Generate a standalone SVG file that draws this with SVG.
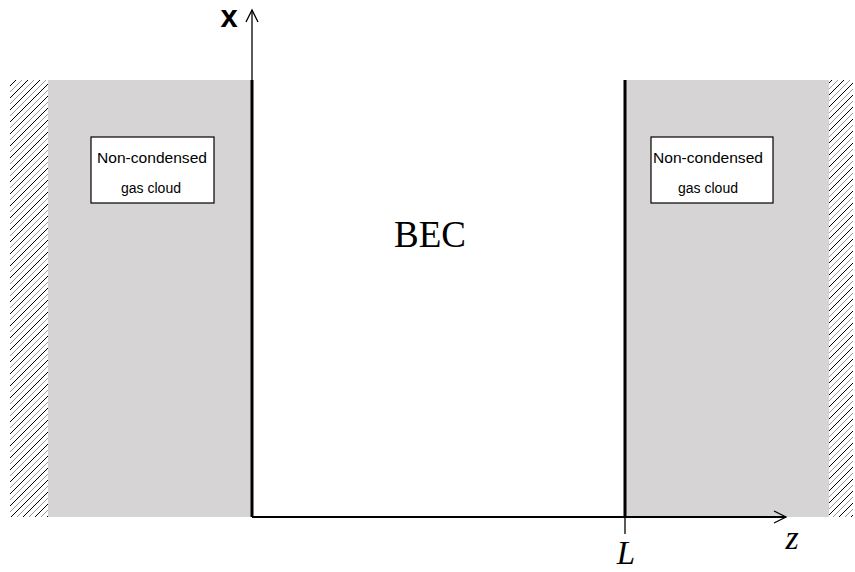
<svg xmlns="http://www.w3.org/2000/svg" width="855" height="572" viewBox="0 0 855 572">
<defs>
<pattern id="hatch" patternUnits="userSpaceOnUse" width="12" height="12">
<path d="M-3,15 L15,-3" stroke="#000" stroke-width="1"/>
<path d="M-9,15 L9,-3" stroke="#999" stroke-width="1"/>
<path d="M3,15 L21,-3" stroke="#999" stroke-width="1"/>
</pattern>
<marker id="arr" markerWidth="16" markerHeight="16" refX="14" refY="8" orient="auto" markerUnits="userSpaceOnUse">
<path d="M2,2 L14,8 L2,14" fill="none" stroke="#000" stroke-width="1.3"/>
</marker>
<style>
.lbl{font-family:"Liberation Sans",Arial,sans-serif;font-size:14px;fill:#000}
.box{fill:#fff;stroke:#000;stroke-width:1.2}
.gas{fill:#d6d4d5}
</style>
</defs>
<rect width="855" height="572" fill="#fff"/>
<g id="walls">
<rect x="10" y="80" width="38" height="437" fill="url(#hatch)"/>
<rect x="829" y="80" width="24" height="437" fill="url(#hatch)"/>
</g>
<g id="left-gas">
<rect class="gas" x="48" y="80" width="204" height="437"/>
<rect class="box" x="91" y="137" width="123" height="66"/>
<text class="lbl" x="97" y="163" textLength="110" lengthAdjust="spacingAndGlyphs">Non-condensed</text>
<text class="lbl" x="151" y="193" text-anchor="middle">gas cloud</text>
</g>
<g id="right-gas">
<rect class="gas" x="625" y="80" width="204" height="437"/>
<rect class="box" x="651" y="137" width="122" height="66"/>
<text class="lbl" x="653" y="163" textLength="110" lengthAdjust="spacingAndGlyphs">Non-condensed</text>
<text class="lbl" x="708" y="193" text-anchor="middle">gas cloud</text>
</g>
<g id="bec">
<text x="430" y="247" text-anchor="middle" font-family="'Liberation Serif','Times New Roman',serif" font-size="37">BEC</text>
</g>
<g id="connectors">
<line x1="252" y1="80" x2="252" y2="517" stroke="#000" stroke-width="3"/>
<line x1="625" y1="80" x2="625" y2="517" stroke="#000" stroke-width="3"/>
<line x1="252" y1="517" x2="252" y2="10" stroke="#000" stroke-width="1.3" marker-end="url(#arr)"/>
<line x1="252" y1="517" x2="786" y2="517" stroke="#000" stroke-width="1.8" marker-end="url(#arr)"/>
<line x1="625" y1="517" x2="625" y2="534" stroke="#000" stroke-width="1.3"/>
</g>
<g id="labels">
<text x="229" y="27" text-anchor="middle" font-family="'Liberation Sans',Arial,sans-serif" font-size="31" font-weight="bold">x</text>
<text x="626" y="564" text-anchor="middle" font-family="'Liberation Serif','Times New Roman',serif" font-style="italic" font-size="33">L</text>
<text x="792" y="549" text-anchor="middle" font-family="'Liberation Serif','Times New Roman',serif" font-style="italic" font-size="34">z</text>
</g>
</svg>
